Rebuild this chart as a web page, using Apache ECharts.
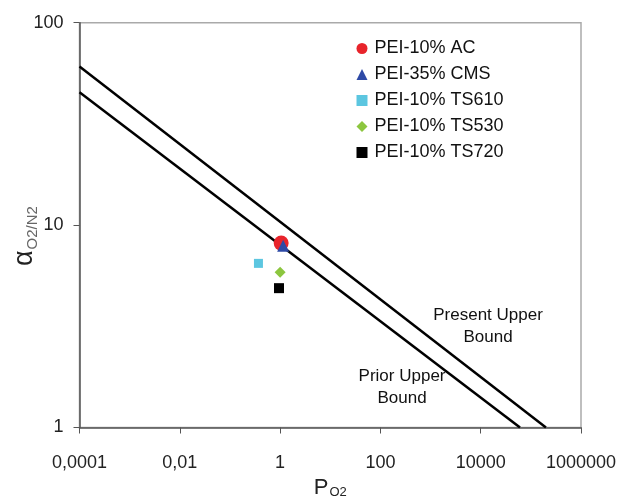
<!DOCTYPE html>
<html>
<head>
<meta charset="utf-8">
<script src="https://cdn.jsdelivr.net/npm/echarts@6/dist/echarts.min.js"></script>
<style>html,body{margin:0;padding:0;background:#fff}#c{width:624px;height:498px}</style>
</head>
<body>
<div id="c"></div>
<script>
// Tick labels (x axis, powers of 100)
const xTickLabels = ['0,0001', '0,01', '1', '100', '10000', '1000000'];
const yTickLabels = ['1', '10', '100'];

// Scatter series names and values [P_O2, alpha]
const seriesNames = ['PEI-10% AC', 'PEI-35% CMS', 'PEI-10% TS610', 'PEI-10% TS530', 'PEI-10% TS720'];
const acData = [[1.05, 8.15]];
const cmsData = [[1.15, 7.9]];
const ts610Data = [[0.37, 6.47]];
const ts530Data = [[1.0, 5.85]];
const ts720Data = [[0.95, 4.88]];

// Upper bound lines
const presentBound = [[0.0001, 60.7], [200000, 1]];
const priorBound = [[0.0001, 45.3], [60800, 1]];

// Annotation anchors
const presentLabel = [[14000, 3.17]];
const priorLabel = [[270, 1.58]];

const FONT = 'Liberation Sans, Arial, sans-serif';
const chart = echarts.init(document.getElementById('c'), null, {renderer: 'canvas'});

function sc(name, data, symbol, size, color) {
  return {
    name: name, type: 'scatter', data: data, symbol: symbol, symbolSize: size,
    itemStyle: {color: color, opacity: 1}, z: 5
  };
}

chart.setOption({
  animation: false,
  backgroundColor: '#fff',
  textStyle: {fontFamily: FONT},
  grid: {left: 79.5, right: 43, top: 22.7, bottom: 70.5, show: true, borderColor: '#aaa', borderWidth: 1.5,
         containLabel: false, outerBoundsMode: 'none'},
  legend: {
    orient: 'vertical', left: 351.5, top: 34.5,
    data: seriesNames,
    itemWidth: 11, itemHeight: 11, itemGap: 8,
    textStyle: {fontSize: 18, color: '#111', fontFamily: FONT, lineHeight: 18, padding: [0, 0, 0, 2]}
  },
  xAxis: {
    type: 'log', logBase: 100, min: 0.0001, max: 1000000,
    name: '{p|P}{s|O2}', nameLocation: 'middle', nameGap: 48,
    nameTextStyle: {
      rich: {
        p: {fontSize: 22, color: '#222', fontFamily: FONT},
        s: {fontSize: 13, color: '#222', fontFamily: FONT, verticalAlign: 'bottom', padding: [4, 0, 0, 1]}
      }
    },
    axisLine: {show: true, lineStyle: {color: '#555', width: 1.5}},
    axisTick: {show: true, inside: false, length: 6, lineStyle: {color: '#555'}},
    minorTick: {show: false},
    splitLine: {show: false},
    axisLabel: {
      fontSize: 18, color: '#222', margin: 27, fontFamily: FONT,
      formatter: function (v) {
        const i = Math.round(Math.log10(v) / 2) + 2;
        return xTickLabels[i] || '';
      }
    }
  },
  yAxis: {
    type: 'log', logBase: 10, min: 1, max: 100,
    name: '{a|α}{s|O2/N2}', nameLocation: 'middle', nameGap: 41, nameRotate: 90,
    nameMoveOverlap: false,
    nameTextStyle: {
      padding: [0, 22, 0, 0],
      rich: {
        a: {fontSize: 27, color: '#222', fontFamily: FONT},
        s: {fontSize: 15, color: '#666', fontFamily: FONT, verticalAlign: 'bottom', padding: [0, 0, -2, 1]}
      }
    },
    axisLine: {show: true, lineStyle: {color: '#555', width: 1.5}},
    axisTick: {show: true, inside: false, length: 6, lineStyle: {color: '#555'}},
    minorTick: {show: false},
    splitLine: {show: false},
    axisLabel: {
      fontSize: 18, color: '#222', margin: 16, fontFamily: FONT,
      formatter: function (v) {
        const i = Math.round(Math.log10(v));
        return yTickLabels[i] || '';
      }
    }
  },
  series: [
    {name: 'Present Upper Bound', type: 'line', data: presentBound, symbol: 'none',
     lineStyle: {color: '#000', width: 2.5}, z: 3, silent: true},
    {name: 'Prior Upper Bound', type: 'line', data: priorBound, symbol: 'none',
     lineStyle: {color: '#000', width: 2.5}, z: 3, silent: true},
    sc(seriesNames[0], acData, 'circle', 15, '#e8242b'),
    sc(seriesNames[1], cmsData, 'triangle', 12, '#2e4aa6'),
    sc(seriesNames[2], ts610Data, 'rect', 9, '#5cc6e0'),
    sc(seriesNames[3], ts530Data, 'diamond', 11, '#8cc63f'),
    sc(seriesNames[4], ts720Data, 'rect', 10, '#000'),
    {name: 'presentText', type: 'scatter', data: presentLabel, symbolSize: 0, silent: true,
     itemStyle: {opacity: 1},
     label: {show: true, position: 'inside', formatter: 'Present Upper\nBound', fontSize: 17,
       lineHeight: 22, color: '#111', align: 'center', fontFamily: FONT}},
    {name: 'priorText', type: 'scatter', data: priorLabel, symbolSize: 0, silent: true,
     itemStyle: {opacity: 1},
     label: {show: true, position: 'inside', formatter: 'Prior Upper\nBound', fontSize: 17,
       lineHeight: 22, color: '#111', align: 'center', fontFamily: FONT}}
  ]
});
</script>
</body>
</html>
